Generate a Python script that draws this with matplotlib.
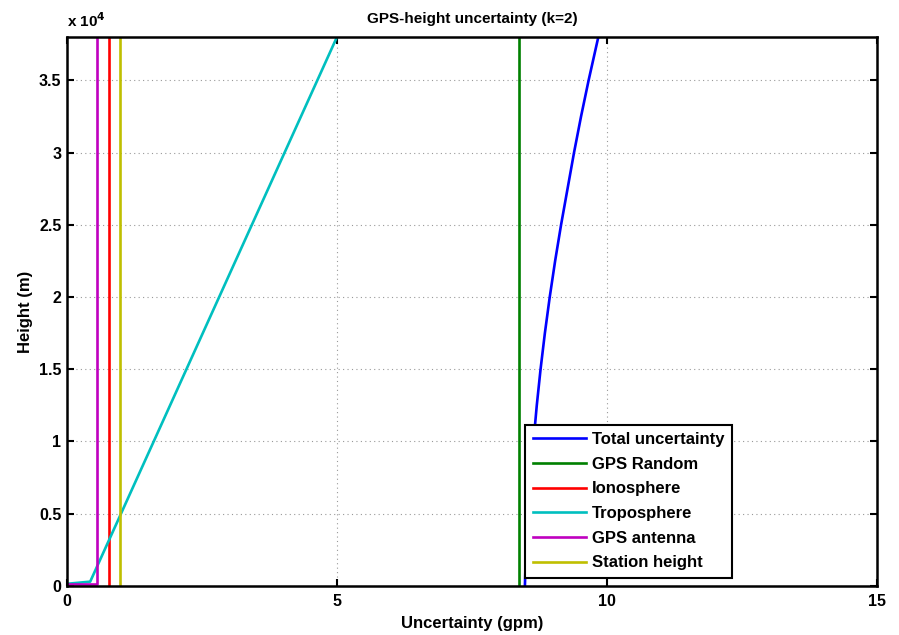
import matplotlib
matplotlib.use("Agg")
import matplotlib.pyplot as plt

plt.rcParams['font.family'] = ['Liberation Sans', 'DejaVu Sans']
plt.rcParams['font.weight'] = 'bold'

# data (uncertainty in gpm, height in m)
h_total = [0, 2500, 5000, 7500, 10000, 12500, 15000, 17500, 20000,
           22500, 25000, 27500, 30000, 32500, 35000, 38000]
u_total = [8.48, 8.50, 8.54, 8.58, 8.64, 8.70, 8.77, 8.85, 8.94,
           9.04, 9.15, 9.27, 9.39, 9.52, 9.66, 9.84]

h_random = [0, 38000]
u_random = [8.37, 8.37]

h_iono = [0, 38000]
u_iono = [0.78, 0.78]

h_tropo = [150, 300, 38000]
u_tropo = [0.0, 0.43, 5.0]

h_antenna = [150, 150, 38000]
u_antenna = [0.0, 0.56, 0.56]

h_station = [0, 38000]
u_station = [0.98, 0.98]

labels = ['Total uncertainty', 'GPS Random', 'Ionosphere',
          'Troposphere', 'GPS antenna', 'Station height']
colors = ['#0000ff', '#008000', '#ff0000', '#00bfbf', '#bf00bf', '#bfbf00']

xticks = [0, 5, 10, 15]
yticks = [0, 5000, 10000, 15000, 20000, 25000, 30000, 35000]
ytick_labels = ['0', '0.5', '1', '1.5', '2', '2.5', '3', '3.5']

fig = plt.figure(figsize=(8.99, 6.35), dpi=100)
ax = fig.add_axes([0.0745, 0.0772, 0.901, 0.8646])

series = [(u_total, h_total), (u_random, h_random), (u_iono, h_iono),
          (u_tropo, h_tropo), (u_antenna, h_antenna), (u_station, h_station)]
for (u, h), lab, c in zip(series, labels, colors):
    ax.plot(u, h, color=c, lw=1.9, label=lab)

ax.set_xlim(0, 15)
ax.set_ylim(0, 38000)
ax.set_xticks(xticks)
ax.set_xticklabels([str(t) for t in xticks])
ax.set_yticks(yticks)
ax.set_yticklabels(ytick_labels)
ax.tick_params(direction='in', length=5, width=1.5, top=True, right=True,
               labelsize=11.5)
ax.tick_params(axis='y', pad=4)
ax.tick_params(axis='x', pad=6)
for s in ax.spines.values():
    s.set_linewidth(1.8)
ax.grid(True, linestyle=(0, (1, 3)), color='#999999', lw=0.8)

ax.set_title('GPS-height uncertainty (k=2)', fontsize=11, fontweight='bold', pad=10)
ax.set_xlabel('Uncertainty (gpm)', fontsize=12, fontweight='bold', labelpad=5)
ax.set_ylabel('Height (m)', fontsize=12, fontweight='bold', labelpad=4)
ax.text(0, 1.012, r'x 10$^{\mathbf{4}}$', transform=ax.transAxes, ha='left',
        va='bottom', fontsize=11, fontweight='bold')

leg = ax.legend(loc='lower right', bbox_to_anchor=(0.821, 0.0146),
                borderaxespad=0, fancybox=False, edgecolor='black',
                framealpha=1, fontsize=12, handlelength=3.2,
                labelspacing=0.58, borderpad=0.45, handletextpad=0.35)
leg.get_frame().set_linewidth(1.5)

fig.savefig('out.png', dpi=100)
